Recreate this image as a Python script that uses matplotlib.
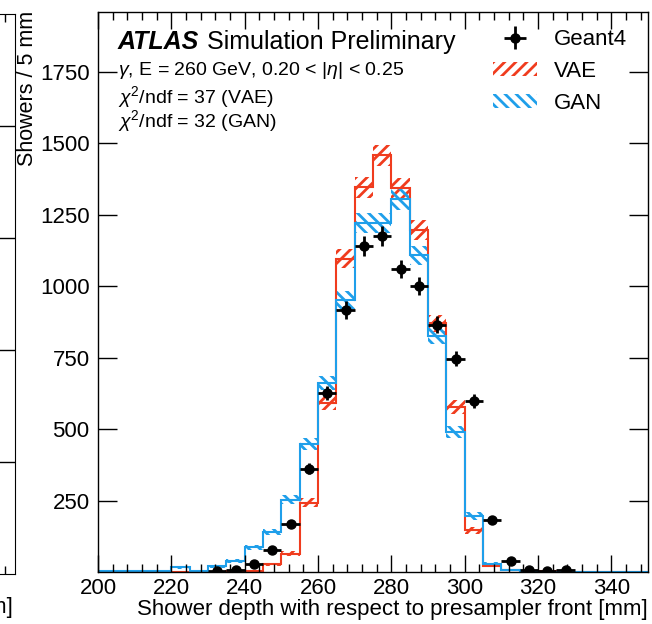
import numpy as np
import matplotlib
matplotlib.use("Agg")
import matplotlib.pyplot as plt
from matplotlib.patches import Patch
from matplotlib.ticker import MultipleLocator

plt.rcParams['font.family'] = ['Liberation Sans', 'DejaVu Sans']
plt.rcParams['mathtext.fontset'] = 'custom'
plt.rcParams['mathtext.rm'] = 'Liberation Sans'
plt.rcParams['mathtext.it'] = 'Liberation Sans:italic'
plt.rcParams['hatch.linewidth'] = 2.0

# 5 mm bins from 200 to 350 mm
edges = np.arange(200, 355, 5)
centers = edges[:-1] + 2.5

geant4 = [0, 0, 0, 0, 0, 0, 4, 8, 27, 77, 169, 362, 627, 917, 1141,
          1175, 1060, 1001, 865, 747, 599, 181, 37, 7, 5, 6, 0, 0, 0, 0]
vae = [0, 0, 0, 0, 0, 0, 1, 2, 5, 27, 64, 243, 590, 1097, 1347,
       1458, 1344, 1196, 870, 578, 146, 21, 8, 5, 3, 1, 0, 0, 0, 0]
gan = [2, 2, 2, 2, 16, 2, 20, 38, 86, 140, 253, 447, 662, 951, 1222,
       1222, 1304, 1108, 826, 490, 196, 29, 8, 3, 1, 0, 0, 0, 0, 0]

red = '#f03c1e'
blue = '#1f9fea'
fs = 16

fig = plt.figure(figsize=(6.52, 6.24), dpi=100)

# cut-off neighbouring panel on the left
ax0 = fig.add_axes([-0.2, 0.0801, 0.2231, 0.8975])
ax0.set_xlim(0, 1)
ax0.set_ylim(0, 1)
ax0.spines['left'].set_visible(False)
ax0.yaxis.tick_right()
ax0.set_yticks([0.2, 0.4, 0.6, 0.8])
ax0.set_yticklabels([])
ax0.set_xticks([0.931])
ax0.set_xticklabels([])
ax0.tick_params(axis='y', direction='in', length=15, width=1)
ax0.tick_params(axis='x', direction='in', length=6, width=1, top=True)
fig.text(12.5 / 652, 1 - 607 / 624, "Shower depth [mm]", ha='right', va='center', fontsize=fs)

ax = fig.add_axes([98 / 652, 1 - 572 / 624, 550 / 652, 560 / 624])

vae_a = np.array(vae, dtype=float)
gan_a = np.array(gan, dtype=float)
g4_a = np.array(geant4, dtype=float)

# uncertainty bands (hatched)
ax.stairs(vae_a + np.sqrt(vae_a), edges, baseline=vae_a - np.sqrt(vae_a), fill=True,
          facecolor='none', edgecolor=red, hatch='///', linewidth=0)
ax.stairs(gan_a + np.sqrt(gan_a), edges, baseline=gan_a - np.sqrt(gan_a), fill=True,
          facecolor='none', edgecolor=blue, hatch='\\\\\\', linewidth=0)
ax.stairs(vae_a, edges, color=red, linewidth=1.5)
ax.stairs(gan_a, edges, color=blue, linewidth=1.5)

mask = g4_a > 0
ax.errorbar(centers[mask], g4_a[mask], xerr=2.5, yerr=np.sqrt(g4_a[mask]), fmt='o',
            color='black', ms=6.5, elinewidth=2, capsize=0)

ax.set_xlim(200, 350)
ax.set_ylim(0, 1960)
ax.xaxis.set_major_locator(MultipleLocator(20))
ax.xaxis.set_minor_locator(MultipleLocator(4))
ax.set_yticks([250, 500, 750, 1000, 1250, 1500, 1750])
ax.tick_params(which='both', direction='in', top=True, right=True, labelsize=fs, width=1)
ax.tick_params(axis='y', which='major', length=14, pad=6)
ax.tick_params(axis='x', which='major', length=12, pad=4)
ax.tick_params(axis='x', which='minor', length=6)
for s in ax.spines.values():
    s.set_linewidth(1)

ax.set_xlabel("Shower depth with respect to presampler front [mm]", fontsize=fs,
              loc='right', labelpad=0)
fig.text(28 / 652, 1 - 11 / 624, "Showers / 5 mm", rotation=90, ha='center', va='top',
         fontsize=15.5)

# ATLAS label and info text
t = ax.text(0.036, 0.934, "ATLAS", transform=ax.transAxes, fontsize=18,
            fontweight='bold', style='italic', va='baseline')
fig.canvas.draw()
bb = t.get_window_extent().transformed(ax.transAxes.inverted())
ax.text(bb.x1 + 0.014, 0.934, "Simulation Preliminary", transform=ax.transAxes,
        fontsize=18, va='baseline')
ax.text(0.036, 0.8875, r"$\gamma$, E = 260 GeV, 0.20 < |$\eta$| < 0.25", transform=ax.transAxes,
        fontsize=14, va='baseline')
ax.text(0.036, 0.8375, r"$\chi^2$/ndf = 37 (VAE)", transform=ax.transAxes,
        fontsize=14, va='baseline')
ax.text(0.036, 0.7946, r"$\chi^2$/ndf = 32 (GAN)", transform=ax.transAxes,
        fontsize=14, va='baseline')

handles = [
    ax.errorbar([], [], xerr=[], yerr=[], fmt='o', color='black', ms=6.5,
                elinewidth=2, capsize=0),
    Patch(facecolor='none', edgecolor=red, hatch='///', linewidth=0),
    Patch(facecolor='none', edgecolor=blue, hatch='\\\\\\', linewidth=0),
]
ax.legend(handles, ["Geant4", "VAE", "GAN"], loc='upper left',
          bbox_to_anchor=(0.718, 0.97), frameon=False, fontsize=fs,
          handlelength=2.0, handleheight=0.55, handletextpad=0.75,
          labelspacing=0.5, borderpad=0, borderaxespad=0)

fig.savefig("out.png", dpi=100)
